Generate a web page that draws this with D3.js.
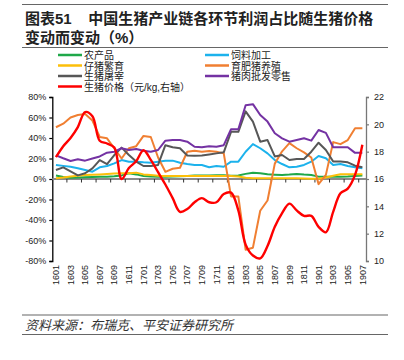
<!DOCTYPE html>
<html><head><meta charset="utf-8">
<script src="https://cdn.jsdelivr.net/npm/d3@7"></script>
<style>
html,body{margin:0;padding:0;background:#fff;}
svg text{font-family:"Liberation Sans",Arial,"Noto Sans CJK SC",sans-serif;}
</style></head>
<body><svg id="c" width="404" height="360"></svg>
<script>
const categories = ["1601","1602","1603","1604","1605","1606","1607","1608","1609","1610","1611","1612",
"1701","1702","1703","1704","1705","1706","1707","1708","1709","1710","1711","1712",
"1801","1802","1803","1804","1805","1806","1807","1808","1809","1810","1811","1812",
"1901","1902","1903","1904","1905","1906","1907"];
const agri =      [3.5,2,1.3,1.5,1.8,2,2.3,2.3,2.6,3.5,5.6,4.5, 3,2.5,2.3,2.3,2.5,2.8,3,3.3,3.5,3.5,3.6,3.6, 3.2,3.5,5,6.2,5.6,4.6,4.2,3.9,4.3,4.9,4.3,3.9, 2.3,2.3,2.3,2.3,2.5,3,3.5];
const feed =      [13.7,12.8,12,10.4,8.8,7.1,11.4,12.7,15.3,18.5,16.9,16.9, 16.3,15.9,16.9,17.9,17.9,15.9,14.6,13.7,13.7,11.4,12.7,12, 16.9,16.9,26.6,34,30,25,18.5,14.6,11.4,12,13.7,16.9, 22.4,20.2,13.7,14.6,12.7,11.4,10.4];
const piglet =    [0.8,1.5,2.5,3.2,3.9,4.2,4.5,4.9,5.3,5.6,5.6,6.2, 4.5,3.9,3.2,2.9,2.9,2.9,2.9,2.9,3,3,2.9,2.9, 2.9,2.5,1.2,0.7,0.7,0.7,0.8,0.8,0.7,0.7,0.5,0.3, 0.3,1.5,3.2,4.6,4.6,4.6,4.6];
const fattening = [50.5,54,60,62.5,63.4,57,41,39.7,30,20,30,32, 42,41,21,7,10,11,26.6,27.6,26.6,27.3,26.6,25, -17,-17,-69,-67,-31,-21,15,27,35,30,26,21, -5,4,36,34,38,49.5,49.5];
const slaughter = [8.8,11.4,7.5,3.5,5.6,10.4,18.5,14.6,23.4,30.6,23.4,17, 12.7,12.7,13.7,33,31,30,23,22.8,23,24,25,26, 46,46,66,56,36.4,38,22,23.4,18.5,19.5,19.5,26.6, 35.4,28.3,17,17,16.3,13,11.5];
const retail =    [23,20.2,17.6,19.2,17.9,20,22,25.7,26.6,30,28.3,29.3, 27.6,26.6,28.3,37.4,38,38,36.4,31.5,30.9,32,31.5,33, 48.5,48.5,72,73,62.5,56,44.6,39.7,36.4,38,39.7,37.4, 47.8,45,31,31,31,25.5,25.7];
const price =     [17.6,18.4,19.0,19.8,20.9,20.6,18.8,18.6,18.3,16.0,16.8,17.3, 18.1,17.4,16.5,15.6,14.6,13.6,13.8,14.3,14.6,14.3,14.3,14.9, 15.0,13.7,11.2,10.4,10.2,11.1,12.5,13.5,14.2,13.7,13.3,13.3, 12.5,12.1,13.6,14.95,15.3,16.3,18.5];
const leftTicks = [-80,-60,-40,-20,0,20,40,60,80];
const rightTicks = [10,12,14,16,18,20,22];
const seriesNames = ["农产品","饲料加工","仔猪繁育","育肥猪养殖","生猪屠宰","猪肉批发零售","生猪价格（元/kg,右轴）"];
const seriesColors = ["#1fa849","#1cb2ec","#fcbf0a","#f07f32","#575757","#7432a3","#fe0000"];

const svg = d3.select("#c");
const L = 52.3, R = 366, T = 97, B = 261;
const x = d3.scaleBand().domain(categories).range([L, R]);
const yL = d3.scaleLinear().domain([-80, 80]).range([B, T]);
const yR = d3.scaleLinear().domain([10, 22]).range([B, T]);

// header rules and title
svg.append("line").attr("x1",22).attr("x2",388).attr("y1",4.5).attr("y2",4.5).attr("stroke","#666").attr("stroke-width",1.2);
svg.append("text").attr("x",25).attr("y",24).attr("font-size",15).attr("font-weight","bold").attr("fill","#222")
  .text("图表51\u00a0\u00a0\u00a0\u00a0中国生猪产业链各环节利润占比随生猪价格");
svg.append("text").attr("x",25).attr("y",43).attr("font-size",15).attr("font-weight","bold").attr("fill","#222")
  .text("变动而变动（%）");
svg.append("line").attr("x1",22).attr("x2",388).attr("y1",47.5).attr("y2",47.5).attr("stroke","#666").attr("stroke-width",1.2);

// legend
const legendPos = [[58,55],[205,55],[58,65.5],[205,65.5],[58,76],[205,76],[58,86.5]];
seriesNames.forEach((n,i)=>{
  const [lx,ly] = legendPos[i];
  svg.append("line").attr("x1",lx).attr("x2",lx+24).attr("y1",ly).attr("y2",ly).attr("stroke",seriesColors[i]).attr("stroke-width",2.5);
  svg.append("text").attr("x",lx+26).attr("y",ly+4.3).attr("font-size",10).attr("fill","#222").text(n);
});

// axes
const gl = svg.append("g").attr("transform",`translate(${L},0)`)
  .call(d3.axisLeft(yL).tickValues(leftTicks).tickSize(3).tickPadding(3).tickFormat(d=>d+"%"));
gl.select(".domain").attr("stroke","#000").attr("stroke-width",1.3);
gl.selectAll(".tick line").attr("stroke","#000").attr("stroke-width",1.2);
gl.selectAll("text").attr("font-size",9).attr("fill","#222");

const gr = svg.append("g").attr("transform",`translate(${R},0)`)
  .call(d3.axisRight(yR).tickValues(rightTicks).tickSize(3).tickPadding(5));
gr.select(".domain").attr("stroke","#777").attr("stroke-width",1.3);
gr.selectAll(".tick line").attr("stroke","#777").attr("stroke-width",1.2);
gr.selectAll("text").attr("font-size",9).attr("fill","#222");

// category axis on zero
const y0 = yL(0);
svg.append("line").attr("x1",L).attr("x2",R).attr("y1",y0).attr("y2",y0).attr("stroke","#8a8a8a").attr("stroke-width",2);
categories.forEach((c,i)=>{
  if (i%2===0 && i>0) {
    svg.append("line").attr("x1",x(c)).attr("x2",x(c)).attr("y1",y0).attr("y2",y0+3.5).attr("stroke","#333").attr("stroke-width",1);
  }
  if (i%2===0) {
    svg.append("text").attr("transform",`translate(${x(c)+x.bandwidth()/2},265) rotate(-90)`)
      .attr("text-anchor","end").attr("dy","0.35em").attr("font-size",9).attr("fill","#222").text(c);
  }
});

// series
const leftSeries = [agri, feed, piglet, fattening, slaughter, retail];
const lineL = d3.line().x((d,i)=>x(categories[i])+x.bandwidth()/2).y(d=>yL(d));
leftSeries.forEach((s,i)=>{
  svg.append("path").attr("d",lineL(s)).attr("fill","none").attr("stroke",seriesColors[i]).attr("stroke-width",2).attr("stroke-linejoin","round");
});
const lineR = d3.line().x((d,i)=>x(categories[i])+x.bandwidth()/2).y(d=>yR(d)).curve(d3.curveCatmullRom.alpha(0.5));
svg.append("path").attr("d",lineR(price)).attr("fill","none").attr("stroke",seriesColors[6]).attr("stroke-width",2.4);

// footer
svg.append("line").attr("x1",22).attr("x2",388).attr("y1",315).attr("y2",315).attr("stroke","#666").attr("stroke-width",1.2);
svg.append("text").attr("x",25).attr("y",330).attr("font-size",13).attr("font-style","italic").attr("fill","#333")
  .text("资料来源：布瑞克、平安证券研究所");
svg.append("line").attr("x1",22).attr("x2",388).attr("y1",334.5).attr("y2",334.5).attr("stroke","#666").attr("stroke-width",1.2);
</script></body></html>
